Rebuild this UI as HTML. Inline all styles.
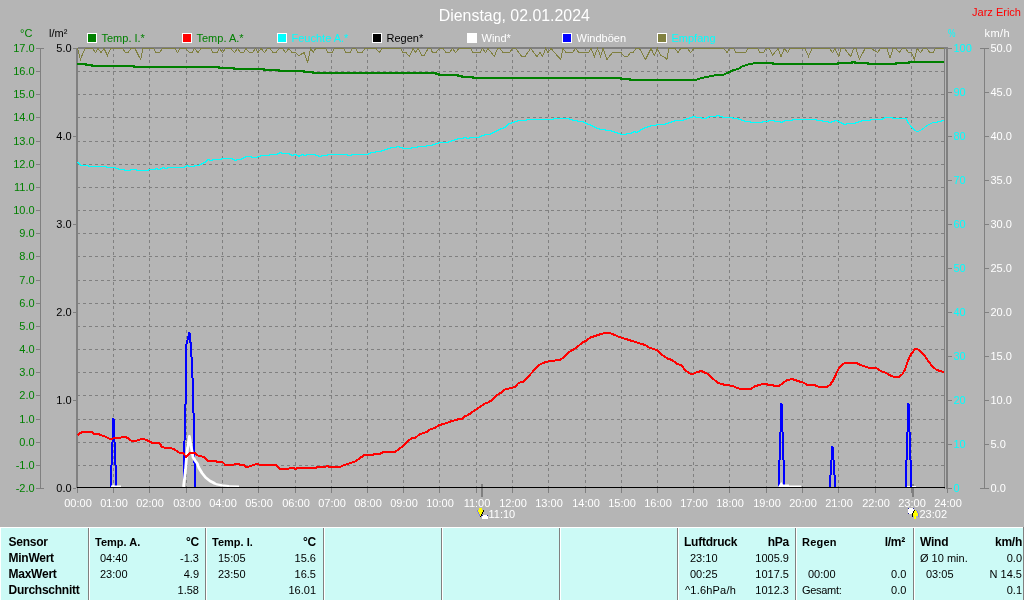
<!DOCTYPE html>
<html><head><meta charset="utf-8"><title>Wetter</title>
<style>
html,body{margin:0;padding:0;}
body{width:1024px;height:600px;overflow:hidden;background:#b5b5b5;font-family:"Liberation Sans",sans-serif;position:relative;}
svg{position:absolute;left:0;top:0;display:block;will-change:transform;}
svg text{font-family:"Liberation Sans",sans-serif;}
#tbl{position:absolute;left:0;top:527px;width:1024px;height:73px;background:#ccfaf6;will-change:transform;}
#tbl .wl{position:absolute;left:0;top:0;width:1024px;height:1px;background:#fff;}
#tbl .sep{position:absolute;top:1px;width:1px;height:72px;background:#808080;}
#tbl .sep:after{content:"";position:absolute;left:1px;top:0;width:1px;height:72px;background:#fff;}
#tbl span{position:absolute;font-size:11px;line-height:13px;white-space:nowrap;color:#000;}
#tbl span.b{font-weight:bold;font-size:12px;letter-spacing:-0.25px;}
#tbl span.r{text-align:right;}
</style></head><body>
<svg width="1024" height="528" viewBox="0 0 1024 528">
<g shape-rendering="crispEdges">
<line x1="77" y1="71.5" x2="944" y2="71.5" stroke="#808080" stroke-width="1" stroke-dasharray="3,3"/>
<line x1="77" y1="94.5" x2="944" y2="94.5" stroke="#808080" stroke-width="1" stroke-dasharray="3,3"/>
<line x1="77" y1="117.5" x2="944" y2="117.5" stroke="#808080" stroke-width="1" stroke-dasharray="3,3"/>
<line x1="77" y1="141.5" x2="944" y2="141.5" stroke="#808080" stroke-width="1" stroke-dasharray="3,3"/>
<line x1="77" y1="164.5" x2="944" y2="164.5" stroke="#808080" stroke-width="1" stroke-dasharray="3,3"/>
<line x1="77" y1="187.5" x2="944" y2="187.5" stroke="#808080" stroke-width="1" stroke-dasharray="3,3"/>
<line x1="77" y1="210.5" x2="944" y2="210.5" stroke="#808080" stroke-width="1" stroke-dasharray="3,3"/>
<line x1="77" y1="233.5" x2="944" y2="233.5" stroke="#808080" stroke-width="1" stroke-dasharray="3,3"/>
<line x1="77" y1="256.5" x2="944" y2="256.5" stroke="#808080" stroke-width="1" stroke-dasharray="3,3"/>
<line x1="77" y1="280.5" x2="944" y2="280.5" stroke="#808080" stroke-width="1" stroke-dasharray="3,3"/>
<line x1="77" y1="303.5" x2="944" y2="303.5" stroke="#808080" stroke-width="1" stroke-dasharray="3,3"/>
<line x1="77" y1="326.5" x2="944" y2="326.5" stroke="#808080" stroke-width="1" stroke-dasharray="3,3"/>
<line x1="77" y1="349.5" x2="944" y2="349.5" stroke="#808080" stroke-width="1" stroke-dasharray="3,3"/>
<line x1="77" y1="372.5" x2="944" y2="372.5" stroke="#808080" stroke-width="1" stroke-dasharray="3,3"/>
<line x1="77" y1="395.5" x2="944" y2="395.5" stroke="#808080" stroke-width="1" stroke-dasharray="3,3"/>
<line x1="77" y1="419.5" x2="944" y2="419.5" stroke="#808080" stroke-width="1" stroke-dasharray="3,3"/>
<line x1="77" y1="442.5" x2="944" y2="442.5" stroke="#808080" stroke-width="1" stroke-dasharray="3,3"/>
<line x1="77" y1="465.5" x2="944" y2="465.5" stroke="#808080" stroke-width="1" stroke-dasharray="3,3"/>
<line x1="113.5" y1="48" x2="113.5" y2="487" stroke="#808080" stroke-width="1" stroke-dasharray="3,3"/>
<line x1="149.5" y1="48" x2="149.5" y2="487" stroke="#808080" stroke-width="1" stroke-dasharray="3,3"/>
<line x1="186.5" y1="48" x2="186.5" y2="487" stroke="#808080" stroke-width="1" stroke-dasharray="3,3"/>
<line x1="222.5" y1="48" x2="222.5" y2="487" stroke="#808080" stroke-width="1" stroke-dasharray="3,3"/>
<line x1="258.5" y1="48" x2="258.5" y2="487" stroke="#808080" stroke-width="1" stroke-dasharray="3,3"/>
<line x1="295.5" y1="48" x2="295.5" y2="487" stroke="#808080" stroke-width="1" stroke-dasharray="3,3"/>
<line x1="331.5" y1="48" x2="331.5" y2="487" stroke="#808080" stroke-width="1" stroke-dasharray="3,3"/>
<line x1="367.5" y1="48" x2="367.5" y2="487" stroke="#808080" stroke-width="1" stroke-dasharray="3,3"/>
<line x1="403.5" y1="48" x2="403.5" y2="487" stroke="#808080" stroke-width="1" stroke-dasharray="3,3"/>
<line x1="439.5" y1="48" x2="439.5" y2="487" stroke="#808080" stroke-width="1" stroke-dasharray="3,3"/>
<line x1="476.5" y1="48" x2="476.5" y2="487" stroke="#808080" stroke-width="1" stroke-dasharray="3,3"/>
<line x1="512.5" y1="48" x2="512.5" y2="487" stroke="#808080" stroke-width="1" stroke-dasharray="3,3"/>
<line x1="548.5" y1="48" x2="548.5" y2="487" stroke="#808080" stroke-width="1" stroke-dasharray="3,3"/>
<line x1="585.5" y1="48" x2="585.5" y2="487" stroke="#808080" stroke-width="1" stroke-dasharray="3,3"/>
<line x1="621.5" y1="48" x2="621.5" y2="487" stroke="#808080" stroke-width="1" stroke-dasharray="3,3"/>
<line x1="657.5" y1="48" x2="657.5" y2="487" stroke="#808080" stroke-width="1" stroke-dasharray="3,3"/>
<line x1="693.5" y1="48" x2="693.5" y2="487" stroke="#808080" stroke-width="1" stroke-dasharray="3,3"/>
<line x1="729.5" y1="48" x2="729.5" y2="487" stroke="#808080" stroke-width="1" stroke-dasharray="3,3"/>
<line x1="766.5" y1="48" x2="766.5" y2="487" stroke="#808080" stroke-width="1" stroke-dasharray="3,3"/>
<line x1="802.5" y1="48" x2="802.5" y2="487" stroke="#808080" stroke-width="1" stroke-dasharray="3,3"/>
<line x1="838.5" y1="48" x2="838.5" y2="487" stroke="#808080" stroke-width="1" stroke-dasharray="3,3"/>
<line x1="875.5" y1="48" x2="875.5" y2="487" stroke="#808080" stroke-width="1" stroke-dasharray="3,3"/>
<line x1="911.5" y1="48" x2="911.5" y2="487" stroke="#808080" stroke-width="1" stroke-dasharray="3,3"/>
<rect x="76" y="48" width="2" height="440" fill="#808080"/>
<rect x="78" y="47" width="870" height="2" fill="#808080"/>
<rect x="944" y="48" width="1" height="441" fill="#808080"/>
<rect x="946" y="47" width="2" height="442" fill="#808080"/>
<rect x="73" y="48" width="3" height="1" fill="#808080"/>
<rect x="73" y="136" width="3" height="1" fill="#808080"/>
<rect x="73" y="224" width="3" height="1" fill="#808080"/>
<rect x="73" y="312" width="3" height="1" fill="#808080"/>
<rect x="73" y="400" width="3" height="1" fill="#808080"/>
<rect x="73" y="488" width="3" height="1" fill="#808080"/>
<rect x="40" y="48" width="1" height="441" fill="#808080"/>
<rect x="36" y="48" width="8" height="1" fill="#808080"/>
<rect x="36" y="71" width="4" height="1" fill="#808080"/>
<rect x="36" y="94" width="4" height="1" fill="#808080"/>
<rect x="36" y="117" width="4" height="1" fill="#808080"/>
<rect x="36" y="141" width="4" height="1" fill="#808080"/>
<rect x="36" y="164" width="4" height="1" fill="#808080"/>
<rect x="36" y="187" width="4" height="1" fill="#808080"/>
<rect x="36" y="210" width="4" height="1" fill="#808080"/>
<rect x="36" y="233" width="4" height="1" fill="#808080"/>
<rect x="36" y="256" width="4" height="1" fill="#808080"/>
<rect x="36" y="280" width="4" height="1" fill="#808080"/>
<rect x="36" y="303" width="4" height="1" fill="#808080"/>
<rect x="36" y="326" width="4" height="1" fill="#808080"/>
<rect x="36" y="349" width="4" height="1" fill="#808080"/>
<rect x="36" y="372" width="4" height="1" fill="#808080"/>
<rect x="36" y="395" width="4" height="1" fill="#808080"/>
<rect x="36" y="419" width="4" height="1" fill="#808080"/>
<rect x="36" y="442" width="4" height="1" fill="#808080"/>
<rect x="36" y="465" width="4" height="1" fill="#808080"/>
<rect x="36" y="488" width="8" height="1" fill="#808080"/>
<rect x="948" y="48" width="4" height="1" fill="#808080"/>
<rect x="948" y="92" width="4" height="1" fill="#808080"/>
<rect x="948" y="136" width="4" height="1" fill="#808080"/>
<rect x="948" y="180" width="4" height="1" fill="#808080"/>
<rect x="948" y="224" width="4" height="1" fill="#808080"/>
<rect x="948" y="268" width="4" height="1" fill="#808080"/>
<rect x="948" y="312" width="4" height="1" fill="#808080"/>
<rect x="948" y="356" width="4" height="1" fill="#808080"/>
<rect x="948" y="400" width="4" height="1" fill="#808080"/>
<rect x="948" y="444" width="4" height="1" fill="#808080"/>
<rect x="948" y="488" width="4" height="1" fill="#808080"/>
<rect x="984" y="48" width="1" height="441" fill="#808080"/>
<rect x="980" y="48" width="9" height="1" fill="#808080"/>
<rect x="985" y="92" width="4" height="1" fill="#808080"/>
<rect x="985" y="136" width="4" height="1" fill="#808080"/>
<rect x="985" y="180" width="4" height="1" fill="#808080"/>
<rect x="985" y="224" width="4" height="1" fill="#808080"/>
<rect x="985" y="268" width="4" height="1" fill="#808080"/>
<rect x="985" y="312" width="4" height="1" fill="#808080"/>
<rect x="985" y="356" width="4" height="1" fill="#808080"/>
<rect x="985" y="400" width="4" height="1" fill="#808080"/>
<rect x="985" y="444" width="4" height="1" fill="#808080"/>
<rect x="980" y="488" width="9" height="1" fill="#808080"/>
<rect x="77" y="488" width="1" height="5" fill="#808080"/>
<rect x="113" y="488" width="1" height="5" fill="#808080"/>
<rect x="149" y="488" width="1" height="5" fill="#808080"/>
<rect x="186" y="488" width="1" height="5" fill="#808080"/>
<rect x="222" y="488" width="1" height="5" fill="#808080"/>
<rect x="258" y="488" width="1" height="5" fill="#808080"/>
<rect x="295" y="488" width="1" height="5" fill="#808080"/>
<rect x="331" y="488" width="1" height="5" fill="#808080"/>
<rect x="367" y="488" width="1" height="5" fill="#808080"/>
<rect x="403" y="488" width="1" height="5" fill="#808080"/>
<rect x="439" y="488" width="1" height="5" fill="#808080"/>
<rect x="476" y="488" width="1" height="5" fill="#808080"/>
<rect x="512" y="488" width="1" height="5" fill="#808080"/>
<rect x="548" y="488" width="1" height="5" fill="#808080"/>
<rect x="585" y="488" width="1" height="5" fill="#808080"/>
<rect x="621" y="488" width="1" height="5" fill="#808080"/>
<rect x="657" y="488" width="1" height="5" fill="#808080"/>
<rect x="693" y="488" width="1" height="5" fill="#808080"/>
<rect x="729" y="488" width="1" height="5" fill="#808080"/>
<rect x="766" y="488" width="1" height="5" fill="#808080"/>
<rect x="802" y="488" width="1" height="5" fill="#808080"/>
<rect x="838" y="488" width="1" height="5" fill="#808080"/>
<rect x="875" y="488" width="1" height="5" fill="#808080"/>
<rect x="911" y="488" width="1" height="5" fill="#808080"/>
<rect x="947" y="488" width="1" height="5" fill="#808080"/>
<rect x="481" y="484" width="2" height="13" fill="#808080"/>
<rect x="912" y="484" width="2" height="13" fill="#808080"/>
</g>
<polyline points="77.00,64.00 86.00,64.00 86.00,65.00 92.00,65.00 92.00,66.00 134.00,66.00 134.00,67.00 219.00,67.00 219.00,68.00 234.00,68.00 234.00,69.00 264.00,69.00 264.00,70.00 279.00,70.00 279.00,71.00 304.00,71.00 304.00,72.00 313.00,72.00 313.00,73.00 436.00,73.00 436.00,74.00 439.00,74.00 439.00,75.00 458.00,75.00 458.00,76.00 462.00,76.00 462.00,77.00 473.00,77.00 473.00,78.00 621.00,78.00 621.00,79.00 630.00,79.00 630.00,80.00 696.00,80.00 696.00,80.00 700.00,78.50 706.00,77.00 712.00,76.00 715.60,75.00 723.75,74.60 727.50,73.00 732.50,70.40 738.75,68.75 742.50,66.25 747.50,64.75 750.00,63.75 755.00,63.40 756.00,63.00 772.50,63.00 772.50,64.00 838.00,64.00 838.00,63.00 852.00,63.00 852.00,62.00 855.00,62.00 855.00,63.00 868.00,63.00 868.00,64.00 896.00,64.00 896.00,63.00 909.00,63.00 909.00,62.00 944.00,62.00" fill="none" stroke="#008000" stroke-width="2" shape-rendering="crispEdges"/>
<polyline points="77.00,162.50 78.50,162.50 78.50,163.50 79.50,163.50 79.50,164.50 80.50,164.50 80.50,165.50 88.00,165.50 88.00,166.50 106.00,166.50 106.00,167.50 115.00,167.50 115.00,168.50 118.00,168.50 118.00,169.50 124.00,169.50 124.00,170.50 130.00,170.50 130.00,169.50 136.00,169.50 136.00,170.50 148.00,170.50 148.00,169.50 155.00,169.50 155.00,168.50 157.50,168.50 157.50,169.50 160.00,169.50 160.00,168.50 162.50,168.50 162.50,167.50 164.00,167.50 164.00,168.50 167.00,168.50 167.00,167.50 184.00,167.50 184.00,166.50 186.00,166.50 186.00,165.50 188.00,165.50 188.00,166.50 194.00,166.50 194.00,165.50 199.00,165.50 199.00,164.50 201.00,164.50 201.00,163.50 203.00,163.50 203.00,162.50 205.50,162.50 205.50,161.50 206.50,161.50 206.50,160.50 207.00,160.50 207.00,159.50 209.00,159.50 209.00,160.50 212.00,160.50 212.00,159.50 221.00,159.50 221.00,158.50 232.00,158.50 232.00,159.50 234.00,159.50 234.00,160.50 236.00,160.50 236.00,159.50 241.00,159.50 241.00,158.50 243.00,158.50 243.00,157.50 245.00,157.50 245.00,156.50 251.00,156.50 251.00,157.50 257.00,157.50 257.00,156.50 260.00,156.50 260.00,155.50 269.00,155.50 269.00,154.50 277.00,154.50 277.00,153.50 279.00,153.50 279.00,152.50 281.00,152.50 281.00,153.50 289.00,153.50 289.00,154.50 291.00,154.50 291.00,155.50 293.00,155.50 293.00,154.50 296.00,154.50 296.00,155.50 298.00,155.50 298.00,156.50 299.00,156.50 299.00,155.50 301.00,155.50 301.00,154.50 303.00,154.50 303.00,155.50 306.00,155.50 306.00,154.50 315.00,154.50 315.00,155.50 318.00,155.50 318.00,156.50 321.00,156.50 321.00,155.50 327.00,155.50 327.00,154.50 347.50,154.50 347.50,155.50 351.00,155.50 351.00,154.50 368.00,154.50 368.00,153.50 370.00,153.50 370.00,152.50 375.00,152.50 375.00,151.50 381.00,151.50 381.00,150.50 384.00,150.50 384.00,149.50 387.00,149.50 387.00,148.50 390.00,148.50 390.00,147.50 396.00,147.50 396.00,146.50 399.00,146.50 399.00,147.50 402.00,147.50 402.00,148.50 411.00,148.50 411.00,147.50 417.00,147.50 417.00,146.50 426.00,146.50 426.00,145.50 432.00,145.50 432.00,144.50 435.00,144.50 435.00,143.50 438.00,143.50 438.00,142.50 448.00,142.50 448.00,141.50 451.00,141.50 451.00,140.50 454.00,140.50 454.00,139.50 457.00,139.50 457.00,138.50 463.00,138.50 463.00,137.50 466.00,137.50 466.00,138.50 469.00,138.50 469.00,137.50 479.00,137.50 479.00,136.50 481.50,136.50 481.50,135.50 484.00,135.50 484.00,134.50 490.00,134.50 490.00,133.50 492.00,133.50 492.00,132.50 494.00,132.50 494.00,131.50 496.00,131.50 496.00,130.50 498.00,130.50 498.00,129.50 500.00,129.50 500.00,128.50 503.00,128.50 503.00,127.50 505.00,127.50 505.00,126.50 506.00,126.50 506.00,125.50 507.00,125.50 507.00,124.50 508.00,124.50 508.00,123.50 511.00,123.50 511.00,122.50 514.00,122.50 514.00,121.50 517.00,121.50 517.00,120.50 526.00,120.50 526.00,119.50 553.00,119.50 553.00,118.50 569.00,118.50 569.00,119.50 572.00,119.50 572.00,120.50 577.00,120.50 577.00,121.50 583.00,121.50 583.00,122.50 585.00,122.50 585.00,123.50 587.00,123.50 587.00,124.50 590.00,124.50 590.00,125.50 592.00,125.50 592.00,126.50 594.00,126.50 594.00,127.50 596.00,127.50 596.00,128.50 599.00,128.50 599.00,129.50 605.00,129.50 605.00,130.50 611.00,130.50 611.00,131.50 614.00,131.50 614.00,132.50 617.00,132.50 617.00,133.50 620.00,133.50 620.00,134.50 626.00,134.50 626.00,133.50 631.00,133.50 631.00,132.50 633.00,132.50 633.00,131.50 635.00,131.50 635.00,132.50 637.00,132.50 637.00,131.50 639.00,131.50 639.00,130.50 640.50,130.50 640.50,129.50 642.00,129.50 642.00,128.50 644.00,128.50 644.00,127.50 647.00,127.50 647.00,126.50 650.00,126.50 650.00,125.50 656.00,125.50 656.00,124.50 665.00,124.50 665.00,123.50 668.00,123.50 668.00,122.50 671.00,122.50 671.00,121.50 674.00,121.50 674.00,120.50 683.00,120.50 683.00,119.50 686.00,119.50 686.00,118.50 689.00,118.50 689.00,117.50 692.00,117.50 692.00,116.50 695.00,116.50 695.00,117.50 701.00,117.50 701.00,118.50 706.00,118.50 706.00,117.50 708.00,117.50 708.00,116.50 716.00,116.50 716.00,115.50 719.00,115.50 719.00,116.50 722.00,116.50 722.00,117.50 732.00,117.50 732.00,118.50 738.00,118.50 738.00,119.50 741.00,119.50 741.00,120.50 744.00,120.50 744.00,121.50 750.00,121.50 750.00,122.50 762.00,122.50 762.00,121.50 768.00,121.50 768.00,120.50 774.00,120.50 774.00,121.50 780.00,121.50 780.00,122.50 782.00,122.50 782.00,121.50 784.00,121.50 784.00,120.50 792.00,120.50 792.00,119.50 816.00,119.50 816.00,120.50 822.00,120.50 822.00,121.50 828.00,121.50 828.00,122.50 831.00,122.50 831.00,121.50 834.00,121.50 834.00,120.50 837.00,120.50 837.00,121.50 839.00,121.50 839.00,122.50 841.00,122.50 841.00,123.50 843.00,123.50 843.00,124.50 846.00,124.50 846.00,123.50 855.00,123.50 855.00,122.50 858.00,122.50 858.00,121.50 861.00,121.50 861.00,120.50 870.00,120.50 870.00,119.50 882.00,119.50 882.00,118.50 884.00,118.50 884.00,117.50 892.00,117.50 892.00,118.50 906.00,118.50 906.00,118.50 907.00,120.50 908.00,122.50 909.00,124.00 911.00,126.50 913.00,128.50 915.00,130.50 916.60,131.50 918.50,131.50 920.00,130.50 922.00,129.50 924.00,128.00 926.00,126.50 928.00,125.00 930.00,124.00 932.00,123.00 934.00,122.50 936.00,122.50 939.00,121.50 944.00,120.50" fill="none" stroke="#00ffff" stroke-width="1" shape-rendering="crispEdges"/>
<rect x="906" y="486" width="10" height="1" fill="#fff"/>
<rect x="112" y="418" width="2" height="1" fill="#0000ff"/>
<rect x="112" y="419" width="3" height="23" fill="#0000ff"/>
<rect x="111" y="442" width="2" height="23" fill="#0000ff"/>
<rect x="114" y="442" width="2" height="23" fill="#0000ff"/>
<rect x="110" y="465" width="2" height="22" fill="#0000ff"/>
<rect x="115" y="465" width="2" height="22" fill="#0000ff"/>
<polyline points="183.60,487.00 184.00,474.00 184.50,441.00 185.80,393.00 186.00,346.00 189.40,332.00 191.00,347.00 191.70,361.00 192.40,375.00 193.20,395.00 194.20,451.00 195.20,487.00" fill="none" stroke="#0000ff" stroke-width="2" shape-rendering="crispEdges"/>
<rect x="780" y="403" width="2" height="1" fill="#0000ff"/>
<rect x="780" y="404" width="3" height="28" fill="#0000ff"/>
<rect x="779" y="432" width="2" height="28" fill="#0000ff"/>
<rect x="782" y="432" width="2" height="28" fill="#0000ff"/>
<rect x="778" y="460" width="2" height="27" fill="#0000ff"/>
<rect x="783" y="460" width="2" height="27" fill="#0000ff"/>
<rect x="831" y="446" width="2" height="1" fill="#0000ff"/>
<rect x="831" y="447" width="3" height="13" fill="#0000ff"/>
<rect x="830" y="460" width="2" height="15" fill="#0000ff"/>
<rect x="833" y="460" width="2" height="15" fill="#0000ff"/>
<rect x="829" y="475" width="2" height="12" fill="#0000ff"/>
<rect x="834" y="475" width="2" height="12" fill="#0000ff"/>
<rect x="907" y="403" width="2" height="1" fill="#0000ff"/>
<rect x="907" y="404" width="3" height="28" fill="#0000ff"/>
<rect x="906" y="432" width="2" height="28" fill="#0000ff"/>
<rect x="909" y="432" width="2" height="28" fill="#0000ff"/>
<rect x="905" y="460" width="2" height="27" fill="#0000ff"/>
<rect x="910" y="460" width="2" height="27" fill="#0000ff"/>
<polygon points="111,487 111,485.5 112,485.5 113.2,484.6 114.5,485.5 121,485.5 121,487" fill="#fff"/>
<polyline points="183.50,487.00 184.60,478.00 185.50,470.00 186.50,458.00 187.50,449.00 189.40,436.50 191.00,446.00 192.20,452.00 193.00,457.00 195.00,460.50 197.30,463.50 199.00,468.00 202.00,473.00 205.60,477.50 210.00,481.00 215.00,483.50" fill="none" stroke="#ffffff" stroke-width="2.8" stroke-linejoin="round"/>
<polyline points="213.00,482.80 217.00,484.40 222.00,485.40 229.00,486.00" fill="none" stroke="#ffffff" stroke-width="2.2" stroke-linejoin="round"/>
<polyline points="227.00,486.10 239.00,486.30" fill="none" stroke="#ffffff" stroke-width="1.5" />
<polygon points="778,487 779.5,484.5 781.25,482 783,484.5 789,484.6 789,485.6 801.3,485.6 801.3,487" fill="#fff"/>
<rect x="77" y="487" width="868" height="1" fill="#000" shape-rendering="crispEdges"/>
<polyline points="77.50,435.00 82.00,432.00 92.00,432.00 94.40,434.00 98.00,434.00 102.50,435.60 106.00,437.00 109.40,438.75 113.00,438.50 116.00,438.00 119.40,438.00 122.00,437.00 125.00,437.00 128.00,438.00 131.00,440.60 136.00,441.00 139.40,439.60 142.50,438.75 145.00,439.60 148.75,441.00 152.00,442.75 159.40,443.00 162.00,447.00 165.60,448.00 170.00,448.00 173.75,449.00 178.75,452.50 183.00,453.00 186.25,457.00 190.00,453.00 195.00,453.00 198.00,455.60 204.40,457.00 208.00,461.00 215.60,461.00 217.00,462.00 222.50,462.00 225.00,464.60 233.75,464.60 235.60,463.75 238.00,463.75 239.40,464.60 243.00,464.60 245.60,466.60 248.75,466.60 252.00,465.40 254.40,464.60 257.50,463.75 260.60,465.40 276.25,465.40 279.40,468.75 288.75,468.75 290.60,467.75 293.00,467.75 295.60,469.00 298.00,467.75 316.00,467.75 317.50,466.60 325.60,466.60 327.00,465.90 328.75,466.60 340.60,466.60 343.00,465.60 346.00,464.60 350.00,463.00 354.40,462.00 358.00,459.40 364.40,455.00 372.50,455.00 374.40,454.00 380.00,454.00 383.00,452.00 395.00,452.00 398.75,449.40 402.50,446.25 407.50,441.25 412.50,438.00 415.00,438.00 420.00,434.00 427.00,432.00 430.60,429.00 435.00,428.00 439.40,425.00 443.75,424.00 451.25,421.25 457.00,419.60 462.00,418.75 465.00,416.25 467.50,415.40 476.25,409.40 484.40,403.75 487.50,402.90 491.25,400.60 496.25,395.60 500.60,393.00 504.40,389.75 511.25,388.00 515.00,386.90 518.75,382.75 523.75,381.50 526.90,378.00 533.75,370.60 536.25,367.50 540.60,364.00 545.00,362.25 550.00,361.00 554.40,361.00 555.60,360.00 560.00,360.00 563.00,357.75 568.00,352.75 577.00,347.25 582.00,342.75 585.60,341.00 590.60,337.50 596.25,335.60 601.25,334.00 605.00,333.00 608.75,333.00 612.50,334.00 618.00,336.50 625.00,338.75 635.00,341.90 645.00,345.00 649.40,347.75 656.90,350.00 661.90,354.75 668.00,358.75 672.00,360.00 677.00,363.75 681.25,365.25 685.00,370.00 690.00,373.50 693.75,373.50 697.50,371.90 702.00,371.00 705.00,373.00 708.00,373.75 713.00,378.75 718.00,383.00 723.75,384.60 728.75,384.60 730.00,385.60 733.75,386.50 739.40,388.75 751.25,388.75 755.00,386.25 762.50,384.00 766.25,384.00 768.00,384.75 772.00,384.75 773.75,385.60 779.40,385.60 786.25,380.60 791.90,379.00 797.50,380.90 803.00,382.50 807.00,384.75 813.75,384.75 818.00,386.60 827.50,386.60 830.00,385.00 833.00,380.60 836.25,373.75 838.00,369.75 840.00,366.90 842.50,364.40 845.00,363.00 856.25,363.00 860.00,364.75 868.00,367.50 876.25,368.00 881.25,371.25 886.25,373.00 890.00,375.25 893.75,376.90 899.00,376.90 902.25,374.40 904.75,370.00 907.25,363.00 909.00,358.00 912.25,352.50 914.75,349.40 917.25,349.00 920.40,351.25 924.00,355.00 927.90,360.60 931.60,365.60 936.00,369.40 939.75,371.00 944.00,371.90" fill="none" stroke="#ff0000" stroke-width="2" shape-rendering="crispEdges"/>
<polyline points="77.50,48.50 80.50,59.50 83.50,51.50 85.60,48.50 92.50,48.50 95.60,52.50 98.00,48.50 101.00,52.50 104.00,48.50 107.50,55.50 110.60,48.50 122.50,48.50 125.60,52.50 128.00,52.50 131.00,48.50 135.00,48.50 140.60,59.50 143.00,48.50 153.75,48.50 156.00,52.50 159.40,52.50 162.50,48.50 175.00,48.50 177.50,52.50 180.00,48.50 186.00,48.50 189.40,52.50 192.00,52.50 194.40,48.50 198.00,52.50 201.00,48.50 210.60,48.50 213.00,52.50 217.00,52.50 219.40,48.50 222.50,52.50 225.60,48.50 231.00,48.50 234.40,52.50 237.50,48.50 240.60,52.50 243.75,52.50 246.00,48.50 249.40,52.50 252.50,52.50 255.60,48.50 258.00,52.50 261.00,48.50 264.40,52.50 267.50,48.50 270.00,48.50 273.00,52.50 276.00,52.50 279.40,48.50 282.50,48.50 285.60,52.50 288.75,48.50 292.00,52.50 295.60,52.50 298.75,55.50 304.40,52.50 307.50,63.00 310.60,48.50 313.40,52.50 315.60,48.50 325.60,48.50 328.00,52.50 332.00,52.50 334.40,48.50 343.75,48.50 346.00,52.50 350.00,52.50 352.50,48.50 355.60,48.50 358.00,52.50 362.00,52.50 365.00,48.50 376.00,48.50 379.40,52.50 382.00,48.50 400.60,48.50 403.00,52.50 406.00,52.50 409.40,56.50 413.00,48.50 415.60,52.50 418.00,48.50 422.00,55.50 424.40,55.50 428.00,48.50 430.60,48.50 432.50,52.50 436.00,52.50 439.40,48.50 443.00,48.50 446.00,52.50 449.40,52.50 452.50,48.50 455.60,52.50 458.75,48.50 470.60,48.50 473.00,52.50 480.00,52.50 482.50,48.50 485.60,52.50 488.00,48.50 494.40,56.50 497.50,48.50 500.00,48.50 503.00,52.50 509.40,52.50 512.50,48.50 515.60,48.50 521.90,56.50 525.00,56.50 530.60,48.50 536.90,56.50 540.00,52.50 542.50,56.50 545.60,48.50 548.00,52.50 551.00,48.50 560.60,59.50 563.00,48.50 566.00,52.50 572.50,52.50 575.60,48.50 578.75,52.50 588.75,52.50 591.00,48.50 594.40,56.50 597.50,48.50 600.60,56.50 603.00,48.50 607.00,59.50 612.50,52.50 621.00,52.50 624.40,56.50 627.50,56.50 630.60,52.50 633.00,52.50 636.00,48.50 639.40,48.50 645.60,59.50 651.00,48.50 654.40,55.50 657.50,48.50 660.60,55.50 663.75,56.50 666.90,59.50 668.75,48.50 675.00,48.50 678.00,52.50 680.60,48.50 687.50,48.50 690.60,52.50 693.75,48.50 723.75,48.50 727.00,52.50 729.40,48.50 733.75,48.50 736.00,52.50 745.60,52.50 748.00,48.50 757.50,48.50 760.00,52.50 763.75,52.50 766.00,48.50 769.40,48.50 772.50,55.50 778.00,48.50 781.00,56.50 784.40,48.50 787.50,52.50 790.00,48.50 805.00,48.50 808.50,56.50 812.00,48.50 829.40,48.50 832.50,52.50 835.00,48.50 838.75,56.50 841.00,48.50 844.40,48.50 850.60,56.50 853.75,48.50 856.00,48.50 859.40,59.50 865.00,48.50 871.00,48.50 877.50,52.50 880.60,48.50 887.00,48.50 890.00,58.00 893.00,48.50 896.00,48.50 899.20,52.50 902.30,48.50 905.80,48.50 908.30,52.50 911.30,52.50 914.50,59.50 917.20,48.50 920.40,52.50 923.50,48.50 926.60,48.50 929.75,52.50 933.00,52.50 935.40,48.50 944.00,48.50" fill="none" stroke="#808040" stroke-width="1" shape-rendering="crispEdges"/>
<text x="514.3" y="21" fill="#ffffff" font-size="15.9" text-anchor="middle" font-weight="normal" >Dienstag, 02.01.2024</text>
<text x="1021" y="16" fill="#ff0000" font-size="11" text-anchor="end" font-weight="normal" >Jarz Erich</text>
<rect x="87.5" y="33.5" width="9" height="9" fill="#008000" stroke="#fff" stroke-width="1" shape-rendering="crispEdges"/>
<text x="101.5" y="42" fill="#008000" font-size="11" text-anchor="start" font-weight="normal" >Temp. I.*</text>
<rect x="182.5" y="33.5" width="9" height="9" fill="#ff0000" stroke="#fff" stroke-width="1" shape-rendering="crispEdges"/>
<text x="196.5" y="42" fill="#008000" font-size="11" text-anchor="start" font-weight="normal" >Temp. A.*</text>
<rect x="277.5" y="33.5" width="9" height="9" fill="#00ffff" stroke="#fff" stroke-width="1" shape-rendering="crispEdges"/>
<text x="291.5" y="42" fill="#00ffff" font-size="11" text-anchor="start" font-weight="normal" >Feuchte A.*</text>
<rect x="372.5" y="33.5" width="9" height="9" fill="#000000" stroke="#fff" stroke-width="1" shape-rendering="crispEdges"/>
<text x="386.5" y="42" fill="#000000" font-size="11" text-anchor="start" font-weight="normal" >Regen*</text>
<rect x="467.5" y="33.5" width="9" height="9" fill="#ffffff" stroke="#fff" stroke-width="1" shape-rendering="crispEdges"/>
<text x="481.5" y="42" fill="#ffffff" font-size="11" text-anchor="start" font-weight="normal" >Wind*</text>
<rect x="562.5" y="33.5" width="9" height="9" fill="#0000ff" stroke="#fff" stroke-width="1" shape-rendering="crispEdges"/>
<text x="576.5" y="42" fill="#ffffff" font-size="11" text-anchor="start" font-weight="normal" >Windböen</text>
<rect x="657.5" y="33.5" width="9" height="9" fill="#808040" stroke="#fff" stroke-width="1" shape-rendering="crispEdges"/>
<text x="671.5" y="42" fill="#00ffff" font-size="11" text-anchor="start" font-weight="normal" >Empfang</text>
<text x="20" y="37" fill="#008000" font-size="11" text-anchor="start" font-weight="normal" >°C</text>
<text x="49" y="37" fill="#000" font-size="11" text-anchor="start" font-weight="normal" >l/m²</text>
<text x="948" y="37" fill="#00ffff" font-size="11" text-anchor="start" font-weight="normal" textLength="7.5" lengthAdjust="spacingAndGlyphs">%</text>
<text x="984.5" y="37" fill="#fff" font-size="11" text-anchor="start" font-weight="normal" textLength="25" lengthAdjust="spacing">km/h</text>
<text x="34.6" y="52.2" fill="#008000" font-size="11" text-anchor="end" font-weight="normal" >17.0</text>
<text x="34.6" y="75.2" fill="#008000" font-size="11" text-anchor="end" font-weight="normal" >16.0</text>
<text x="34.6" y="98.2" fill="#008000" font-size="11" text-anchor="end" font-weight="normal" >15.0</text>
<text x="34.6" y="121.2" fill="#008000" font-size="11" text-anchor="end" font-weight="normal" >14.0</text>
<text x="34.6" y="145.2" fill="#008000" font-size="11" text-anchor="end" font-weight="normal" >13.0</text>
<text x="34.6" y="168.2" fill="#008000" font-size="11" text-anchor="end" font-weight="normal" >12.0</text>
<text x="34.6" y="191.2" fill="#008000" font-size="11" text-anchor="end" font-weight="normal" >11.0</text>
<text x="34.6" y="214.2" fill="#008000" font-size="11" text-anchor="end" font-weight="normal" >10.0</text>
<text x="34.6" y="237.2" fill="#008000" font-size="11" text-anchor="end" font-weight="normal" >9.0</text>
<text x="34.6" y="260.2" fill="#008000" font-size="11" text-anchor="end" font-weight="normal" >8.0</text>
<text x="34.6" y="284.2" fill="#008000" font-size="11" text-anchor="end" font-weight="normal" >7.0</text>
<text x="34.6" y="307.2" fill="#008000" font-size="11" text-anchor="end" font-weight="normal" >6.0</text>
<text x="34.6" y="330.2" fill="#008000" font-size="11" text-anchor="end" font-weight="normal" >5.0</text>
<text x="34.6" y="353.2" fill="#008000" font-size="11" text-anchor="end" font-weight="normal" >4.0</text>
<text x="34.6" y="376.2" fill="#008000" font-size="11" text-anchor="end" font-weight="normal" >3.0</text>
<text x="34.6" y="399.2" fill="#008000" font-size="11" text-anchor="end" font-weight="normal" >2.0</text>
<text x="34.6" y="423.2" fill="#008000" font-size="11" text-anchor="end" font-weight="normal" >1.0</text>
<text x="34.6" y="446.2" fill="#008000" font-size="11" text-anchor="end" font-weight="normal" >0.0</text>
<text x="34.6" y="469.2" fill="#008000" font-size="11" text-anchor="end" font-weight="normal" >-1.0</text>
<text x="34.6" y="492.2" fill="#008000" font-size="11" text-anchor="end" font-weight="normal" >-2.0</text>
<text x="71.6" y="52.2" fill="#000" font-size="11" text-anchor="end" font-weight="normal" >5.0</text>
<text x="71.6" y="140.2" fill="#000" font-size="11" text-anchor="end" font-weight="normal" >4.0</text>
<text x="71.6" y="228.2" fill="#000" font-size="11" text-anchor="end" font-weight="normal" >3.0</text>
<text x="71.6" y="316.2" fill="#000" font-size="11" text-anchor="end" font-weight="normal" >2.0</text>
<text x="71.6" y="404.2" fill="#000" font-size="11" text-anchor="end" font-weight="normal" >1.0</text>
<text x="71.6" y="492.2" fill="#000" font-size="11" text-anchor="end" font-weight="normal" >0.0</text>
<text x="953.5" y="52.1" fill="#00ffff" font-size="11" text-anchor="start" font-weight="normal" >100</text>
<text x="990.5" y="52.1" fill="#fff" font-size="11" text-anchor="start" font-weight="normal" >50.0</text>
<text x="953.5" y="96.1" fill="#00ffff" font-size="11" text-anchor="start" font-weight="normal" >90</text>
<text x="990.5" y="96.1" fill="#fff" font-size="11" text-anchor="start" font-weight="normal" >45.0</text>
<text x="953.5" y="140.1" fill="#00ffff" font-size="11" text-anchor="start" font-weight="normal" >80</text>
<text x="990.5" y="140.1" fill="#fff" font-size="11" text-anchor="start" font-weight="normal" >40.0</text>
<text x="953.5" y="184.1" fill="#00ffff" font-size="11" text-anchor="start" font-weight="normal" >70</text>
<text x="990.5" y="184.1" fill="#fff" font-size="11" text-anchor="start" font-weight="normal" >35.0</text>
<text x="953.5" y="228.1" fill="#00ffff" font-size="11" text-anchor="start" font-weight="normal" >60</text>
<text x="990.5" y="228.1" fill="#fff" font-size="11" text-anchor="start" font-weight="normal" >30.0</text>
<text x="953.5" y="272.1" fill="#00ffff" font-size="11" text-anchor="start" font-weight="normal" >50</text>
<text x="990.5" y="272.1" fill="#fff" font-size="11" text-anchor="start" font-weight="normal" >25.0</text>
<text x="953.5" y="316.1" fill="#00ffff" font-size="11" text-anchor="start" font-weight="normal" >40</text>
<text x="990.5" y="316.1" fill="#fff" font-size="11" text-anchor="start" font-weight="normal" >20.0</text>
<text x="953.5" y="360.1" fill="#00ffff" font-size="11" text-anchor="start" font-weight="normal" >30</text>
<text x="990.5" y="360.1" fill="#fff" font-size="11" text-anchor="start" font-weight="normal" >15.0</text>
<text x="953.5" y="404.1" fill="#00ffff" font-size="11" text-anchor="start" font-weight="normal" >20</text>
<text x="990.5" y="404.1" fill="#fff" font-size="11" text-anchor="start" font-weight="normal" >10.0</text>
<text x="953.5" y="448.1" fill="#00ffff" font-size="11" text-anchor="start" font-weight="normal" >10</text>
<text x="990.5" y="448.1" fill="#fff" font-size="11" text-anchor="start" font-weight="normal" >5.0</text>
<text x="953.5" y="492.1" fill="#00ffff" font-size="11" text-anchor="start" font-weight="normal" >0</text>
<text x="990.5" y="492.1" fill="#fff" font-size="11" text-anchor="start" font-weight="normal" >0.0</text>
<text x="78" y="507" fill="#fff" font-size="11" text-anchor="middle" font-weight="normal" >00:00</text>
<text x="114" y="507" fill="#fff" font-size="11" text-anchor="middle" font-weight="normal" >01:00</text>
<text x="150" y="507" fill="#fff" font-size="11" text-anchor="middle" font-weight="normal" >02:00</text>
<text x="187" y="507" fill="#fff" font-size="11" text-anchor="middle" font-weight="normal" >03:00</text>
<text x="223" y="507" fill="#fff" font-size="11" text-anchor="middle" font-weight="normal" >04:00</text>
<text x="259" y="507" fill="#fff" font-size="11" text-anchor="middle" font-weight="normal" >05:00</text>
<text x="296" y="507" fill="#fff" font-size="11" text-anchor="middle" font-weight="normal" >06:00</text>
<text x="332" y="507" fill="#fff" font-size="11" text-anchor="middle" font-weight="normal" >07:00</text>
<text x="368" y="507" fill="#fff" font-size="11" text-anchor="middle" font-weight="normal" >08:00</text>
<text x="404" y="507" fill="#fff" font-size="11" text-anchor="middle" font-weight="normal" >09:00</text>
<text x="440" y="507" fill="#fff" font-size="11" text-anchor="middle" font-weight="normal" >10:00</text>
<text x="477" y="507" fill="#fff" font-size="11" text-anchor="middle" font-weight="normal" >11:00</text>
<text x="513" y="507" fill="#fff" font-size="11" text-anchor="middle" font-weight="normal" >12:00</text>
<text x="549" y="507" fill="#fff" font-size="11" text-anchor="middle" font-weight="normal" >13:00</text>
<text x="586" y="507" fill="#fff" font-size="11" text-anchor="middle" font-weight="normal" >14:00</text>
<text x="622" y="507" fill="#fff" font-size="11" text-anchor="middle" font-weight="normal" >15:00</text>
<text x="658" y="507" fill="#fff" font-size="11" text-anchor="middle" font-weight="normal" >16:00</text>
<text x="694" y="507" fill="#fff" font-size="11" text-anchor="middle" font-weight="normal" >17:00</text>
<text x="730" y="507" fill="#fff" font-size="11" text-anchor="middle" font-weight="normal" >18:00</text>
<text x="767" y="507" fill="#fff" font-size="11" text-anchor="middle" font-weight="normal" >19:00</text>
<text x="803" y="507" fill="#fff" font-size="11" text-anchor="middle" font-weight="normal" >20:00</text>
<text x="839" y="507" fill="#fff" font-size="11" text-anchor="middle" font-weight="normal" >21:00</text>
<text x="876" y="507" fill="#fff" font-size="11" text-anchor="middle" font-weight="normal" >22:00</text>
<text x="912" y="507" fill="#fff" font-size="11" text-anchor="middle" font-weight="normal" >23:00</text>
<text x="948" y="507" fill="#fff" font-size="11" text-anchor="middle" font-weight="normal" >24:00</text>
<text x="488.5" y="518" fill="#fff" font-size="11" text-anchor="start" font-weight="normal" >11:10</text>
<text x="919.5" y="518" fill="#fff" font-size="11" text-anchor="start" font-weight="normal" >23:02</text>
<g shape-rendering="crispEdges">
<path d="M479,508 h3 v2 h1 v2 h-1 v2 h-1 v2 h-1 v-2 h-1 v-2 h-1 v-2 h1 z" fill="#ffff00"/>
<rect x="477" y="510" width="1" height="2" fill="#8080e0"/>
<rect x="478" y="512" width="1" height="2" fill="#8080e0"/>
<rect x="479" y="514" width="1" height="2" fill="#8080e0"/>
<rect x="483" y="510" width="1" height="2" fill="#000"/>
<rect x="482" y="512" width="1" height="2" fill="#000"/>
<rect x="481" y="514" width="1" height="2" fill="#000"/>
<rect x="480" y="516" width="1" height="1" fill="#000"/>
<rect x="482" y="515" width="6" height="4" fill="#fff"/>
<rect x="482" y="515" width="1" height="1" fill="#2020a0"/>
<rect x="487" y="515" width="1" height="1" fill="#2020a0"/>
<rect x="908" y="508" width="6" height="6" fill="#fff"/>
<rect x="908" y="508" width="1" height="1" fill="#2020a0"/>
<rect x="913" y="508" width="1" height="1" fill="#2020a0"/>
<rect x="908" y="513" width="1" height="1" fill="#2020a0"/>
<rect x="913" y="513" width="1" height="1" fill="#2020a0"/>
<path d="M915,510 h1 v1 h1 v2 h1 v3 h-2 v3 h-2 v-3 h-1 v-3 h1 v-2 h1 z" fill="#ffff00"/>
<rect x="914" y="510" width="1" height="1" fill="#000"/>
<rect x="913" y="511" width="1" height="2" fill="#000"/>
<rect x="912" y="513" width="1" height="2" fill="#000"/>
<rect x="912" y="515" width="1" height="2" fill="#000"/>
<rect x="916" y="510" width="1" height="1" fill="#8080e0"/>
<rect x="917" y="511" width="1" height="2" fill="#8080e0"/>
<rect x="918" y="513" width="1" height="2" fill="#8080e0"/>
<rect x="918" y="515" width="1" height="2" fill="#8080e0"/>
</g>
</svg>
<div id="tbl"><div class="wl"></div>
<div style="position:absolute;left:0;top:0;width:1px;height:73px;background:#fff"></div>
<div style="position:absolute;left:1023px;top:0;width:1px;height:73px;background:#808080"></div>
<div class="sep" style="left:88px"></div>
<div class="sep" style="left:205px"></div>
<div class="sep" style="left:323px"></div>
<div class="sep" style="left:441px"></div>
<div class="sep" style="left:559px"></div>
<div class="sep" style="left:677px"></div>
<div class="sep" style="left:795px"></div>
<div class="sep" style="left:913px"></div>
<span class="b" style="left:8.5px;top:9px">Sensor</span>
<span class="b" style="left:8.5px;top:25px">MinWert</span>
<span class="b" style="left:8.5px;top:41px">MaxWert</span>
<span class="b" style="left:8.5px;top:57px">Durchschnitt</span>
<span class="b" style="left:95px;top:9px"><span style="position:static;letter-spacing:0">Temp. A.</span></span>
<span class="b r" style="right:825px;top:9px">°C</span>
<span class="" style="left:100px;top:24.5px">04:40</span>
<span class=" r" style="right:825px;top:24.5px">-1.3</span>
<span class="" style="left:100px;top:40.5px">23:00</span>
<span class=" r" style="right:825px;top:40.5px">4.9</span>
<span class=" r" style="right:825px;top:56.5px">1.58</span>
<span class="b" style="left:212px;top:9px"><span style="position:static;letter-spacing:0">Temp. I.</span></span>
<span class="b r" style="right:708px;top:9px">°C</span>
<span class="" style="left:218px;top:24.5px">15:05</span>
<span class=" r" style="right:708px;top:24.5px">15.6</span>
<span class="" style="left:218px;top:40.5px">23:50</span>
<span class=" r" style="right:708px;top:40.5px">16.5</span>
<span class=" r" style="right:708px;top:56.5px">16.01</span>
<span class="b" style="left:684px;top:9px">Luftdruck</span>
<span class="b r" style="right:235px;top:9px">hPa</span>
<span class="" style="left:690px;top:24.5px">23:10</span>
<span class=" r" style="right:235px;top:24.5px">1005.9</span>
<span class="" style="left:690px;top:40.5px">00:25</span>
<span class=" r" style="right:235px;top:40.5px">1017.5</span>
<span class="" style="left:685px;top:56.5px"><span style="position:static;letter-spacing:0.2px">^1.6hPa/h</span></span>
<span class=" r" style="right:235px;top:56.5px">1012.3</span>
<span class="b" style="left:802px;top:9px"><span style="position:static;letter-spacing:0.2px">Regen</span></span>
<span class="b r" style="right:119px;top:9px">l/m²</span>
<span class="" style="left:808px;top:40.5px">00:00</span>
<span class=" r" style="right:117.60000000000002px;top:40.5px">0.0</span>
<span class="" style="left:802px;top:56.5px"><span style="position:static;letter-spacing:-0.3px">Gesamt:</span></span>
<span class=" r" style="right:117.60000000000002px;top:56.5px">0.0</span>
<span class="b" style="left:920px;top:9px">Wind</span>
<span class="b r" style="right:2px;top:9px">km/h</span>
<span class="" style="left:920px;top:24.5px">Ø 10 min.</span>
<span class=" r" style="right:2px;top:24.5px">0.0</span>
<span class="" style="left:926px;top:40.5px">03:05</span>
<span class=" r" style="right:2px;top:40.5px">N 14.5</span>
<span class=" r" style="right:2px;top:56.5px">0.1</span>
</div>
</body></html>
